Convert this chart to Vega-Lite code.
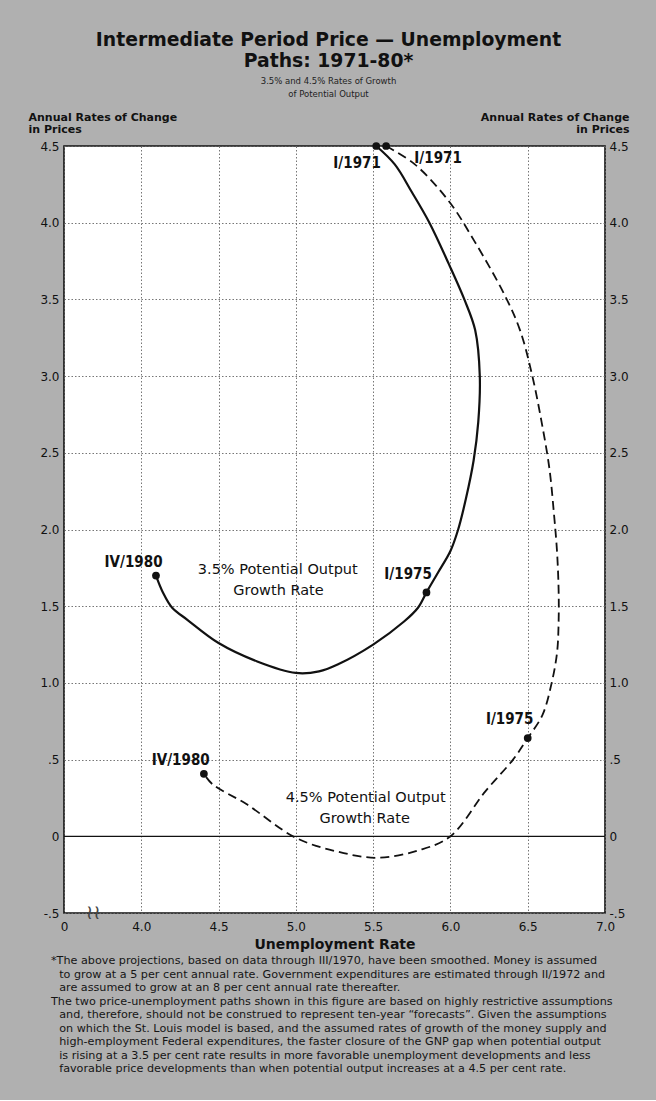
{
  "$schema": "https://vega.github.io/schema/vega-lite/v6.json",
  "background": "#b0b0b0",
  "padding": {"left": 27, "right": 28, "top": 30, "bottom": 25},
  "title": {
    "text": ["Intermediate Period Price \u2014 Unemployment", "Paths: 1971-80*"],
    "subtitle": ["3.5% and 4.5% Rates of Growth", "of Potential Output"],
    "anchor": "middle",
    "font": "DejaVu Sans",
    "fontSize": 18.8,
    "fontWeight": "bold",
    "lineHeight": 21,
    "color": "#111",
    "subtitleFont": "DejaVu Sans",
    "subtitleFontSize": 8.5,
    "subtitleLineHeight": 13,
    "subtitleColor": "#222",
    "subtitlePadding": 6,
    "offset": 12
  },
  "datasets": {
    "paths": [
      {"path": "3.5%", "i": 1, "u": 5.52, "p": 4.5},
      {"path": "3.5%", "i": 2, "u": 5.64, "p": 4.38},
      {"path": "3.5%", "i": 3, "u": 5.75, "p": 4.2},
      {"path": "3.5%", "i": 4, "u": 5.864, "p": 4.0},
      {"path": "3.5%", "i": 5, "u": 5.99, "p": 3.73},
      {"path": "3.5%", "i": 6, "u": 6.09, "p": 3.5},
      {"path": "3.5%", "i": 7, "u": 6.16, "p": 3.3},
      {"path": "3.5%", "i": 8, "u": 6.19, "p": 3.0},
      {"path": "3.5%", "i": 9, "u": 6.18, "p": 2.7},
      {"path": "3.5%", "i": 10, "u": 6.15, "p": 2.45},
      {"path": "3.5%", "i": 11, "u": 6.1, "p": 2.2},
      {"path": "3.5%", "i": 12, "u": 6.05, "p": 2.0},
      {"path": "3.5%", "i": 13, "u": 6.0, "p": 1.86},
      {"path": "3.5%", "i": 14, "u": 5.92, "p": 1.72},
      {"path": "3.5%", "i": 15, "u": 5.845, "p": 1.59},
      {"path": "3.5%", "i": 16, "u": 5.79, "p": 1.49},
      {"path": "3.5%", "i": 17, "u": 5.7, "p": 1.4},
      {"path": "3.5%", "i": 18, "u": 5.5, "p": 1.25},
      {"path": "3.5%", "i": 19, "u": 5.27, "p": 1.12},
      {"path": "3.5%", "i": 20, "u": 5.15, "p": 1.075},
      {"path": "3.5%", "i": 21, "u": 5.0, "p": 1.065},
      {"path": "3.5%", "i": 22, "u": 4.75, "p": 1.14},
      {"path": "3.5%", "i": 23, "u": 4.5, "p": 1.26},
      {"path": "3.5%", "i": 24, "u": 4.3, "p": 1.41},
      {"path": "3.5%", "i": 25, "u": 4.2, "p": 1.49},
      {"path": "3.5%", "i": 26, "u": 4.14, "p": 1.59},
      {"path": "3.5%", "i": 27, "u": 4.095, "p": 1.7},
      {"path": "4.5%", "i": 1, "u": 5.584, "p": 4.5},
      {"path": "4.5%", "i": 2, "u": 5.77, "p": 4.38},
      {"path": "4.5%", "i": 3, "u": 5.99, "p": 4.14},
      {"path": "4.5%", "i": 4, "u": 6.155, "p": 3.88},
      {"path": "4.5%", "i": 5, "u": 6.35, "p": 3.53},
      {"path": "4.5%", "i": 6, "u": 6.45, "p": 3.3},
      {"path": "4.5%", "i": 7, "u": 6.53, "p": 3.0},
      {"path": "4.5%", "i": 8, "u": 6.59, "p": 2.7},
      {"path": "4.5%", "i": 9, "u": 6.64, "p": 2.4},
      {"path": "4.5%", "i": 10, "u": 6.67, "p": 2.1},
      {"path": "4.5%", "i": 11, "u": 6.69, "p": 1.85},
      {"path": "4.5%", "i": 12, "u": 6.7, "p": 1.6},
      {"path": "4.5%", "i": 13, "u": 6.7, "p": 1.4},
      {"path": "4.5%", "i": 14, "u": 6.69, "p": 1.2},
      {"path": "4.5%", "i": 15, "u": 6.655, "p": 1.0},
      {"path": "4.5%", "i": 16, "u": 6.595, "p": 0.79},
      {"path": "4.5%", "i": 17, "u": 6.5, "p": 0.64},
      {"path": "4.5%", "i": 18, "u": 6.405, "p": 0.5},
      {"path": "4.5%", "i": 19, "u": 6.226, "p": 0.293},
      {"path": "4.5%", "i": 20, "u": 6.0, "p": 0.0},
      {"path": "4.5%", "i": 21, "u": 5.8, "p": -0.09},
      {"path": "4.5%", "i": 22, "u": 5.53, "p": -0.14},
      {"path": "4.5%", "i": 23, "u": 5.27, "p": -0.1},
      {"path": "4.5%", "i": 24, "u": 5.0, "p": -0.01},
      {"path": "4.5%", "i": 25, "u": 4.68, "p": 0.21},
      {"path": "4.5%", "i": 26, "u": 4.46, "p": 0.34},
      {"path": "4.5%", "i": 27, "u": 4.405, "p": 0.407}
    ],
    "points": [
      {"path": "3.5%", "u": 5.52, "p": 4.5},
      {"path": "3.5%", "u": 5.845, "p": 1.59},
      {"path": "3.5%", "u": 4.095, "p": 1.7},
      {"path": "4.5%", "u": 5.584, "p": 4.5},
      {"path": "4.5%", "u": 6.5, "p": 0.64},
      {"path": "4.5%", "u": 4.405, "p": 0.407}
    ],
    "dates": [
      {"t": "I/1971", "u": 5.396, "p": 4.39},
      {"t": "I/1971", "u": 5.92, "p": 4.425},
      {"t": "IV/1980", "u": 3.95, "p": 1.787},
      {"t": "I/1975", "u": 5.726, "p": 1.707},
      {"t": "IV/1980", "u": 4.255, "p": 0.5},
      {"t": "I/1975", "u": 6.383, "p": 0.767}
    ],
    "captions": [
      {"t": "3.5% Potential Output", "u": 4.883, "p": 1.733},
      {"t": "Growth Rate", "u": 4.888, "p": 1.598},
      {"t": "4.5% Potential Output", "u": 5.452, "p": 0.25},
      {"t": "Growth Rate", "u": 5.445, "p": 0.115}
    ],
    "zero": [{"p": 0}],
    "brk": [{"t": "\u2240\u2240", "u": 3.69, "p": -0.5}]
  },
  "vconcat": [
    {
      "width": 541,
      "height": 767,
      "title": {
        "text": [
          "*The above projections, based on data through III/1970, have been smoothed. Money is assumed",
          "\u2800to grow at a 5 per cent annual rate. Government expenditures are estimated through II/1972 and",
          "\u2800are assumed to grow at an 8 per cent annual rate thereafter.",
          "The two price-unemployment paths shown in this figure are based on highly restrictive assumptions",
          "\u2800and, therefore, should not be construed to represent ten-year \u201cforecasts\u201d. Given the assumptions",
          "\u2800on which the St. Louis model is based, and the assumed rates of growth of the money supply and",
          "\u2800high-employment Federal expenditures, the faster closure of the GNP gap when potential output",
          "\u2800is rising at a 3.5 per cent rate results in more favorable unemployment developments and less",
          "\u2800favorable price developments than when potential output increases at a 4.5 per cent rate."
        ],
        "orient": "bottom",
        "anchor": "start",
        "frame": "group",
        "dx": -13,
        "offset": 4,
        "font": "DejaVu Sans",
        "fontSize": 11.2,
        "fontWeight": "normal",
        "lineHeight": 13.5,
        "color": "#151515"
      },
      "resolve": {"axis": {"y": "independent"}},
      "layer": [
        {
          "data": {"name": "paths"},
          "transform": [{"filter": "datum.path == '3.5%'"}],
          "mark": {"type": "line", "interpolate": "catmull-rom", "stroke": "#111", "strokeWidth": 2.2},
          "encoding": {
            "x": {
              "field": "u", "type": "quantitative",
              "scale": {"domain": [3.5, 7], "nice": false, "zero": false},
              "axis": {
                "values": [3.5, 4, 4.5, 5, 5.5, 6, 6.5, 7],
                "labelExpr": "datum.value == 3.5 ? '0' : format(datum.value, '.1f')",
                "title": "Unemployment Rate",
                "grid": true
              }
            },
            "y": {
              "field": "p", "type": "quantitative",
              "scale": {"domain": [-0.5, 4.5], "nice": false, "zero": false},
              "axis": {
                "orient": "left",
                "values": [-0.5, 0, 0.5, 1, 1.5, 2, 2.5, 3, 3.5, 4, 4.5],
                "labelExpr": "datum.value == 0.5 ? '.5' : datum.value == 0 ? '0' : datum.value == -0.5 ? '-.5' : format(datum.value, '.1f')",
                "grid": true,
                "title": ["Annual Rates of Change", "in Prices"],
                "titleAngle": 0,
                "titleAlign": "left",
                "titleBaseline": "top",
                "titleX": -36,
                "titleY": -35,
                "labelPadding": 5
              }
            },
            "order": {"field": "i", "type": "quantitative"}
          }
        },
        {
          "data": {"name": "paths"},
          "transform": [{"filter": "datum.path == '4.5%'"}],
          "mark": {"type": "line", "interpolate": "catmull-rom", "stroke": "#111", "strokeWidth": 1.8, "strokeDash": [9, 5]},
          "encoding": {
            "x": {"field": "u", "type": "quantitative"},
            "y": {"field": "p", "type": "quantitative", "axis": null},
            "order": {"field": "i", "type": "quantitative"}
          }
        },
        {
          "data": {"name": "zero"},
          "mark": {"type": "rule", "stroke": "#111", "strokeWidth": 1.2},
          "encoding": {
            "y": {
              "field": "p", "type": "quantitative",
              "axis": {
                "orient": "right",
                "values": [-0.5, 0, 0.5, 1, 1.5, 2, 2.5, 3, 3.5, 4, 4.5],
                "labelExpr": "datum.value == 0.5 ? '.5' : datum.value == 0 ? '0' : datum.value == -0.5 ? '-.5' : format(datum.value, '.1f')",
                "grid": false,
                "title": ["Annual Rates of Change", "in Prices"],
                "titleAngle": 0,
                "titleAlign": "right",
                "titleBaseline": "top",
                "titleX": 24,
                "titleY": -35,
                "labelPadding": 4
              }
            }
          }
        },
        {
          "data": {"name": "points"},
          "mark": {"type": "circle", "size": 60, "color": "#111", "opacity": 1},
          "encoding": {
            "x": {"field": "u", "type": "quantitative"},
            "y": {"field": "p", "type": "quantitative", "axis": null}
          }
        },
        {
          "data": {"name": "dates"},
          "mark": {"type": "text", "font": "Liberation Sans Narrow, DejaVu Sans Condensed, Roboto Condensed, Liberation Sans", "fontSize": 15, "fontWeight": "bold", "color": "#111", "baseline": "middle", "align": "center"},
          "encoding": {
            "x": {"field": "u", "type": "quantitative"},
            "y": {"field": "p", "type": "quantitative", "axis": null},
            "text": {"field": "t"}
          }
        },
        {
          "data": {"name": "captions"},
          "mark": {"type": "text", "font": "DejaVu Sans", "fontSize": 14.5, "color": "#111", "baseline": "middle", "align": "center"},
          "encoding": {
            "x": {"field": "u", "type": "quantitative"},
            "y": {"field": "p", "type": "quantitative", "axis": null},
            "text": {"field": "t"}
          }
        },
        {
          "data": {"name": "brk"},
          "mark": {"type": "text", "font": "DejaVu Sans", "fontSize": 20, "color": "#444", "baseline": "middle", "align": "center"},
          "encoding": {
            "x": {"field": "u", "type": "quantitative"},
            "y": {"field": "p", "type": "quantitative", "axis": null},
            "text": {"field": "t"}
          }
        }
      ]
    }
  ],
  "config": {
    "view": {"fill": "white", "stroke": "#111", "strokeWidth": 1.6},
    "axis": {
      "domain": false,
      "ticks": false,
      "labelFont": "DejaVu Sans",
      "labelFontSize": 12,
      "labelColor": "#111",
      "labelFlush": false,
      "labelOverlap": false,
      "titleFont": "DejaVu Sans",
      "titleColor": "#111",
      "titleFontWeight": "bold",
      "titleFontSize": 11,
      "titleLineHeight": 12,
      "gridColor": "#666",
      "gridDash": [1.5, 2],
      "gridWidth": 0.9,
      "gridOpacity": 1
    },
    "axisX": {
      "labelPadding": 8,
      "titleFontSize": 14,
      "titlePadding": 5
    }
  }
}
